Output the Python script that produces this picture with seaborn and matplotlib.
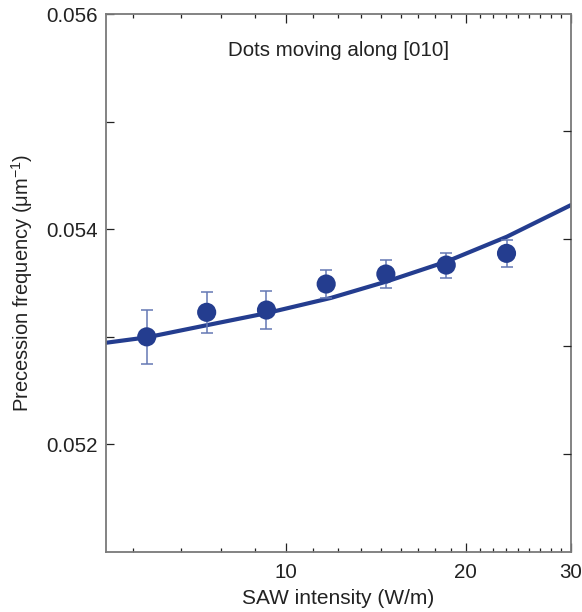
import numpy as np
import pandas as pd
import matplotlib
matplotlib.use("Agg")
import matplotlib.pyplot as plt
from matplotlib.ticker import FixedLocator, NullFormatter, FixedFormatter
import seaborn as sns

# ---- data ----
saw_intensity = [5.85, 7.37, 9.28, 11.68, 14.7, 18.55, 23.4]
precession = [0.05300, 0.053228, 0.053249, 0.053491, 0.053584, 0.053667, 0.053776]
precession_err = [0.000248, 0.000193, 0.000175, 0.000133, 0.000133, 0.000116, 0.000124]

fit_intensity = [5.0, 5.85, 7.37, 9.28, 11.9, 14.75, 18.58, 23.42, 30.0]
fit_precession = [0.052945, 0.052995, 0.053108, 0.053220, 0.053362,
                  0.053515, 0.053700, 0.053930, 0.054225]

x_tick_values = [10, 20, 30]
x_tick_labels = ["10", "20", "30"]
y_tick_values = [0.052, 0.054, 0.056]
y_tick_labels = ["0.052", "0.054", "0.056"]

sns.set_style("white")
plt.rcParams['font.family'] = ['Liberation Sans', 'DejaVu Sans']
plt.rcParams['mathtext.fontset'] = 'custom'
plt.rcParams['mathtext.rm'] = 'Liberation Sans'

dark_blue = "#243d8f"
err_blue = "#6478b4"
spine_grey = "#7a7a7a"

fig = plt.figure(figsize=(5.82, 6.12), dpi=100)
ax = fig.add_axes([0.1821, 0.098, 0.799, 0.879])

fit_df = pd.DataFrame({"I": fit_intensity, "f": fit_precession})
pts_df = pd.DataFrame({"I": saw_intensity, "f": precession, "e": precession_err})

ax.set_xscale("log")
sns.lineplot(data=fit_df, x="I", y="f", ax=ax, color=dark_blue, lw=3.0, zorder=2)
ax.errorbar(pts_df["I"], pts_df["f"], yerr=pts_df["e"], fmt="none",
            ecolor=err_blue, elinewidth=1.1, capsize=4.5, capthick=1.1, zorder=3)
sns.scatterplot(data=pts_df, x="I", y="f", ax=ax, color=dark_blue, s=190,
                edgecolor="none", zorder=4)

ax.set_xlim(5, 30)
ax.set_ylim(0.051, 0.056)

# x ticks
ax.xaxis.set_major_locator(FixedLocator(x_tick_values))
ax.xaxis.set_major_formatter(FixedFormatter(x_tick_labels))
minor_x = [10 / 9 * k for k in range(5, 27) if k not in (9, 18)]
ax.xaxis.set_minor_locator(FixedLocator(minor_x))
ax.xaxis.set_minor_formatter(NullFormatter())

# y ticks (left)
ax.yaxis.set_major_locator(FixedLocator(y_tick_values))
ax.yaxis.set_major_formatter(FixedFormatter(y_tick_labels))
ax.yaxis.set_minor_locator(FixedLocator([0.053, 0.055]))

ax.tick_params(axis="both", which="both", direction="in", color="#222222",
               width=0.9, labelsize=14.8, labelcolor="#222222")
ax.tick_params(axis="x", which="major", length=6.5, top=True, bottom=True, pad=8)
ax.tick_params(axis="x", which="minor", length=3, top=True, bottom=True)
ax.tick_params(axis="y", which="major", length=6, left=True, right=False, pad=6)
ax.tick_params(axis="y", which="minor", length=6, left=True, right=False)

# right axis ticks (slightly offset scale)
ax2 = ax.twinx()
ax2.set_ylim(0.051087, 0.056087)
ax2.yaxis.set_major_locator(FixedLocator([0.052, 0.053, 0.054, 0.055]))
ax2.yaxis.set_major_formatter(NullFormatter())
ax2.tick_params(axis="y", direction="in", length=6, width=0.9, color="#222222")
for sp in ax2.spines.values():
    sp.set_visible(False)

for sp in ax.spines.values():
    sp.set_color(spine_grey)
    sp.set_linewidth(1.3)

ax.set_xlabel("SAW intensity (W/m)", fontsize=15, color="#222222", labelpad=5)
ax.set_ylabel("Precession frequency (μm$^{\\mathregular{-1}}$)", fontsize=14.5,
              color="#222222", labelpad=8)
ax.text(0.5, 0.933, "Dots moving along [010]", transform=ax.transAxes,
        ha="center", va="center", fontsize=14.8, color="#222222")

fig.savefig("out.png", dpi=100)
